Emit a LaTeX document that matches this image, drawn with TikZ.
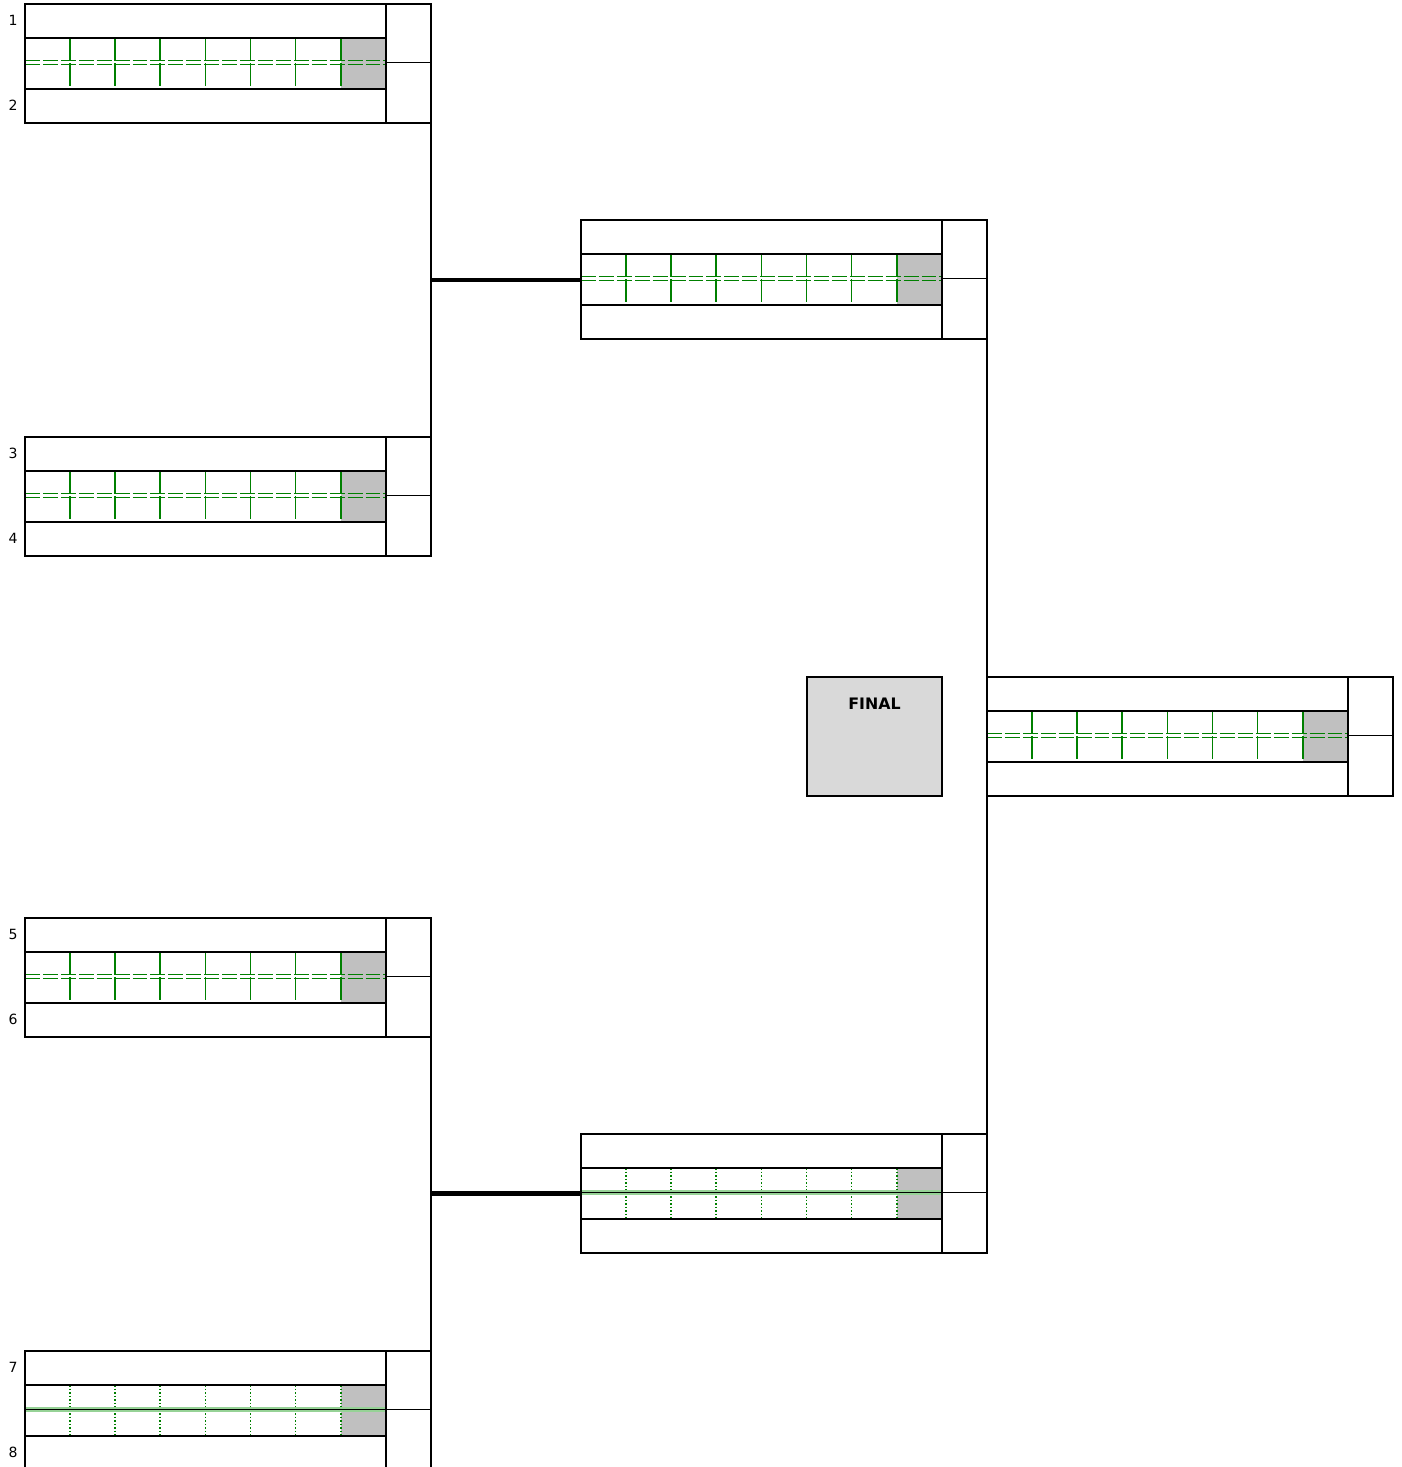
\documentclass[tikz,border=0pt]{standalone}
\usepackage{fontspec}
\setmainfont{DejaVu Sans}
\usepackage{tikz}
\usetikzlibrary{calc}
\definecolor{cellgreen}{RGB}{0,128,0}
\definecolor{midgreen}{RGB}{150,210,150}
\definecolor{scoregray}{RGB}{192,192,192}
\definecolor{finalgray}{RGB}{217,217,217}
\tikzstyle{boxline} = [line width=1.1pt]
\tikzstyle{thinline} = [line width=0.6pt]
\tikzstyle{joinline} = [line width=2.3pt]
\tikzstyle{dashcell} = [cellgreen,line width=0.95pt,dash pattern=on 13pt off 1.3pt]
\tikzstyle{dotcell} = [cellgreen,line width=0.95pt,dash pattern=on 0.9pt off 1.1pt]
\tikzstyle{dashmid} = [cellgreen,line width=0.85pt,dash pattern=on 8.5pt off 1.7pt]
\tikzstyle{solidmid} = [midgreen,line width=0.6pt,double=black,double distance=1.1pt]
\tikzstyle{seedlabel} = [font=\fontsize{8}{9}\selectfont,inner sep=0pt]
\tikzstyle{finaltitle} = [font=\fontsize{9}{10}\selectfont\bfseries,inner sep=0pt]
\tikzstyle{finalbox} = [draw,boxline,fill=finalgray,minimum width=2.7cm,minimum height=2.38cm,inner sep=0pt]

% the two kinds of middle line of the score rows
\newcommand{\dashedpair}[1]{%
  \draw[dashmid] ($(#1)+(0,-1.8)$) -- ++(361,0);
  \draw[dashmid] ($(#1)+(0,1.8)$) -- ++(361,0);}
\newcommand{\solidpair}[1]{%
  \draw[solidmid] (#1) -- ++(361,0);}

% one match: name, top left corner, cell style, middle line
\newcommand{\matchbox}[4]{%
  \coordinate (#1) at (#2);
  \coordinate (#1-w) at ($(#1)+(0,58.5)$);
  \coordinate (#1-e) at ($(#1)+(406,58.5)$);
  \coordinate (#1-ne) at ($(#1)+(406,0)$);
  \coordinate (#1-se) at ($(#1)+(406,119)$);
  \fill[scoregray] ($(#1)+(316,34)$) rectangle ($(#1)+(361,85)$);
  \foreach \k in {1,...,7}
    \draw[#3] ($(#1)+(\k*45.1,34)$) -- ($(#1)+(\k*45.1,85)$);
  #4{#1-w}
  \draw[thinline] ($(#1-w)+(361,0)$) -- (#1-e);
  \draw[boxline] (#1) rectangle (#1-se);
  \draw[boxline] ($(#1)+(361,0)$) -- ($(#1)+(361,119)$);
  \draw[boxline] ($(#1)+(0,34)$) -- ($(#1)+(361,34)$);
  \draw[boxline] ($(#1)+(0,85)$) -- ($(#1)+(361,85)$);
}

\begin{document}
\begin{tikzpicture}[x=0.02cm,y=-0.02cm]
\useasboundingbox (0,0) rectangle (1402,1467);
\clip (0,0) rectangle (1402,1467);

% first round
\matchbox{m1}{25,4}{dashcell}{\dashedpair}
\matchbox{m2}{25,437}{dashcell}{\dashedpair}
\matchbox{m3}{25,918}{dashcell}{\dashedpair}
\matchbox{m4}{25,1351}{dotcell}{\solidpair}

% semi finals and final
\matchbox{sf1}{581,220}{dashcell}{\dashedpair}
\matchbox{sf2}{581,1134}{dotcell}{\solidpair}
\matchbox{fin}{987,677}{dashcell}{\dashedpair}

\node[seedlabel] (seed1) at ($(m1)+(-12,16)$) {1};
\node[seedlabel] (seed2) at ($(m1)+(-12,101)$) {2};
\node[seedlabel] (seed3) at ($(m2)+(-12,16)$) {3};
\node[seedlabel] (seed4) at ($(m2)+(-12,101)$) {4};
\node[seedlabel] (seed5) at ($(m3)+(-12,16)$) {5};
\node[seedlabel] (seed6) at ($(m3)+(-12,101)$) {6};
\node[seedlabel] (seed7) at ($(m4)+(-12,16)$) {7};
\node[seedlabel] (seed8) at ($(m4)+(-12,101)$) {8};

\node[finalbox] (final) at (874.5,736.5) {};
\node[finaltitle] (finaltitle) at ($(final.north)+(0,28)$) {FINAL};

% bracket lines
\draw[boxline] (m1-ne) -- (m2-se);
\draw[boxline] (m3-ne) -- (m4-se);
\draw[boxline] (sf1-ne) -- (sf2-se);
\draw[joinline] ($(m1-ne |- sf1-w)+(0,1.5)$) -- ($(sf1-w)+(0,1.5)$);
\draw[joinline] ($(m3-ne |- sf2-w)+(0,1)$) -- ($(sf2-w)+(0,1)$);

\end{tikzpicture}
\end{document}
